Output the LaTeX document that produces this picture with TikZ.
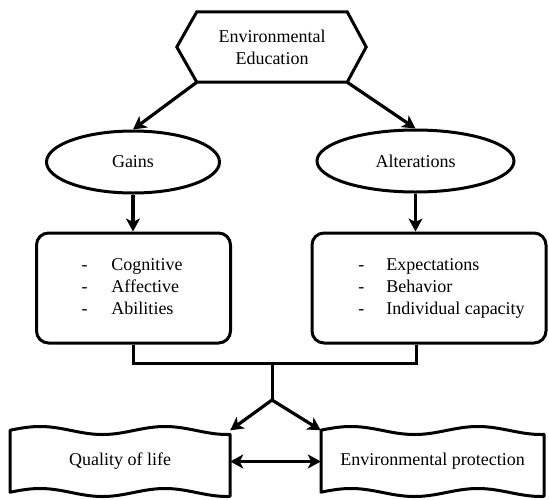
\documentclass[tikz,border=0pt]{standalone}
\usepackage{fontspec}
\setmainfont{Liberation Serif}
\usetikzlibrary{arrows.meta,shapes.geometric}
\begin{document}
\begin{tikzpicture}[x=1pt,y=-1pt,
  every node/.style={font=\fontsize{18}{22}\selectfont},
  shapeline/.style={draw=black,line width=3pt},
  arr/.style={line width=3.2pt,-{Stealth[length=13pt,width=14pt,inset=3.5pt]}},
  dblarr/.style={line width=3.2pt,{Stealth[length=13pt,width=14pt,inset=3.5pt]}-{Stealth[length=13pt,width=14pt,inset=3.5pt]}},
  conn/.style={line width=3pt},
  ell/.style={shapeline,ellipse,inner sep=0pt},
  rbox/.style={shapeline,rectangle,rounded corners=12pt,inner sep=0pt,minimum height=110pt},
  wavebox/.style={rectangle,inner sep=0pt,minimum height=62pt}
]
\useasboundingbox (0,0) rectangle (549,499);

% hexagon
\node[rectangle,minimum width=150pt,minimum height=70pt,inner sep=0pt,align=center] (edu) at (272,47) {Environmental\\Education};
\draw[shapeline,line join=miter] (edu.north west) -- (edu.north east) -- ([xshift=19pt]edu.east) -- (edu.south east) -- (edu.south west) -- ([xshift=-20pt]edu.west) -- cycle;

% ellipses
\node[ell,minimum width=173pt,minimum height=62pt] (gains) at (133,162) {Gains};
\node[ell,minimum width=197pt,minimum height=62pt] (alt) at (415.5,161) {Alterations};

% rounded boxes
\node[rbox,minimum width=194pt] (lbox) at (133.5,288) {\hspace*{-3pt}\begin{tabular}{@{}l@{}}\makebox[30pt][l]{-}Cognitive\\\makebox[30pt][l]{-}Affective\\\makebox[30pt][l]{-}Abilities\end{tabular}};
\node[rbox,minimum width=234pt] (rbox) at (429,288) {\hspace*{25pt}\begin{tabular}{@{}l@{}}\makebox[28pt][l]{-}Expectations\\\makebox[28pt][l]{-}Behavior\\\makebox[28pt][l]{-}Individual capacity\end{tabular}};

% wavy boxes
\node[wavebox,minimum width=220pt] (qol) at (120,461.5) {Quality of life};
\node[wavebox,minimum width=223pt] (ep) at (432.5,461.5) {Environmental protection};
\draw[shapeline,line join=round] plot[domain=0:220,samples=90] ({10+\x},{430.5-4*cos(2.88*(\x-30))}) -- plot[domain=220:0,samples=90] ({10+\x},{492.5-4*cos(2.88*(\x-30))}) -- cycle;
\draw[shapeline,line join=round] plot[domain=0:223,samples=90] ({321+\x},{430.5-4*cos(2.835*(\x-30))}) -- plot[domain=223:0,samples=90] ({321+\x},{492.5-4*cos(2.835*(\x-30))}) -- cycle;

% junction coordinates
\coordinate (jl) at (133,363);
\coordinate (jr) at (416,363);
\coordinate (jc) at (272,363);
\coordinate (br) at (272,400);

% connectors
\draw[arr] (edu.south west) -- (gains.north);
\draw[arr] (edu.south east) -- (alt.north);
\draw[arr] (gains.south) -- (gains.south |- lbox.north);
\draw[arr] (alt.south) -- (alt.south |- rbox.north);
\draw[conn,line join=miter] (jl |- lbox.south) -- (jl) -- (jr) -- (jr |- rbox.south);
\draw[conn] (jc) -- (br);
\draw[arr] (br) -- (qol.north east);
\draw[arr] (br) -- (ep.north west);
\draw[dblarr] (qol.east) -- (ep.west);
\end{tikzpicture}
\end{document}
